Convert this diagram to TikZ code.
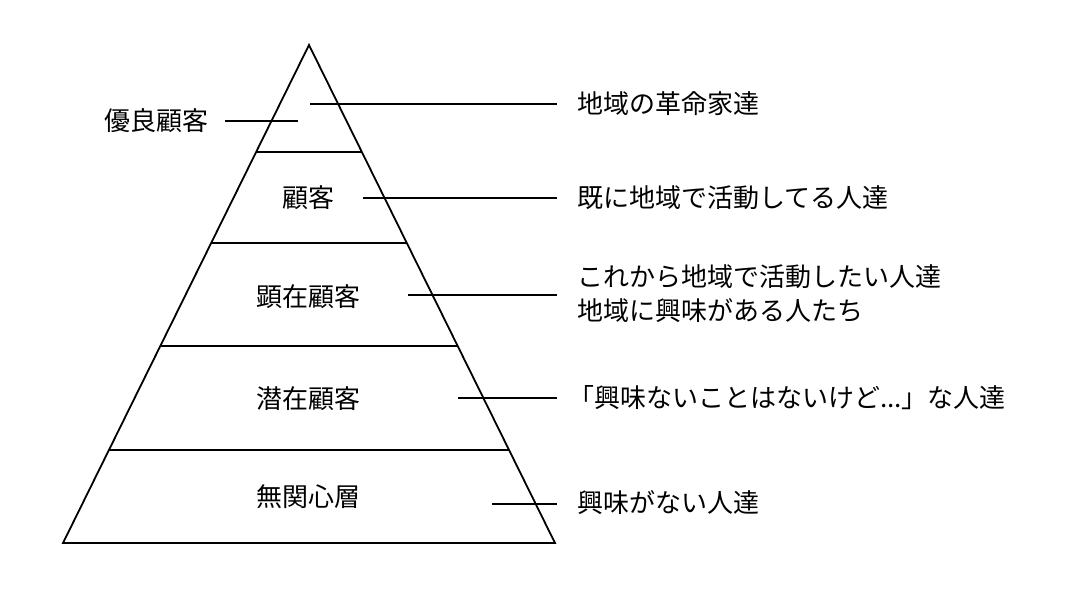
\documentclass[tikz,border=0pt]{standalone}
\usepackage{fontspec}
\setmainfont{Noto Sans CJK JP}
\usetikzlibrary{calc}
\begin{document}
\begin{tikzpicture}[x=1pt,y=-1pt,
  edge/.style={line width=1.8pt,black},
  lbl/.style={inner sep=0pt,font=\fontsize{26}{34}\selectfont},
  desc/.style={lbl,anchor=west,align=left}]
\useasboundingbox (0,0) rectangle (1080,608);
% triangle
\coordinate (apex) at (309,45);
\coordinate (bl) at (63,543);
\coordinate (br) at (555,543);
\draw[edge,line join=miter] (apex) -- (bl) -- (br) -- cycle;
% layer lines
\foreach \t/\n in {0.2149/a,0.3976/b,0.6044/c,0.8133/d}{
  \coordinate (l\n) at ($(apex)!\t!(bl)$);
  \coordinate (r\n) at ($(apex)!\t!(br)$);
  \draw[edge] (l\n) -- (r\n);
}
% layer labels
\node[lbl] (n1) at (308,198) {顧客};
\node[lbl] (n2) at (308,297) {顕在顧客};
\node[lbl] (n3) at (308,399) {潜在顧客};
\node[lbl] (n4) at (308,497) {無関心層};
\node[lbl,anchor=east] (n0) at (209,121) {優良顧客};
\coordinate (p0) at (298,121);
\draw[edge] ([xshift=16pt]n0.east) -- (p0);
% descriptions
\node[desc] (d0) at (577,104) {地域の革命家達};
\node[desc] (d1) at (577,198) {既に地域で活動してる人達};
\node[desc] (d2) at (577,294) {これから地域で活動したい人達\\地域に興味がある人たち};
\node[desc] (d3) at (577,398) {\hspace*{-9pt}「興味ないことはないけど...」な人達};
\node[desc] (d4) at (577,503) {興味がない人達};
\coordinate (q0) at (310,104);
\coordinate (q1) at (363,198);
\coordinate (q2) at (408,295);
\coordinate (q3) at (458,398);
\coordinate (q4) at (492,504);
\foreach \i in {0,...,4}{
  \draw[edge] (q\i) -- ([xshift=-20pt]d\i.west |- q\i);
}
\end{tikzpicture}
\end{document}
